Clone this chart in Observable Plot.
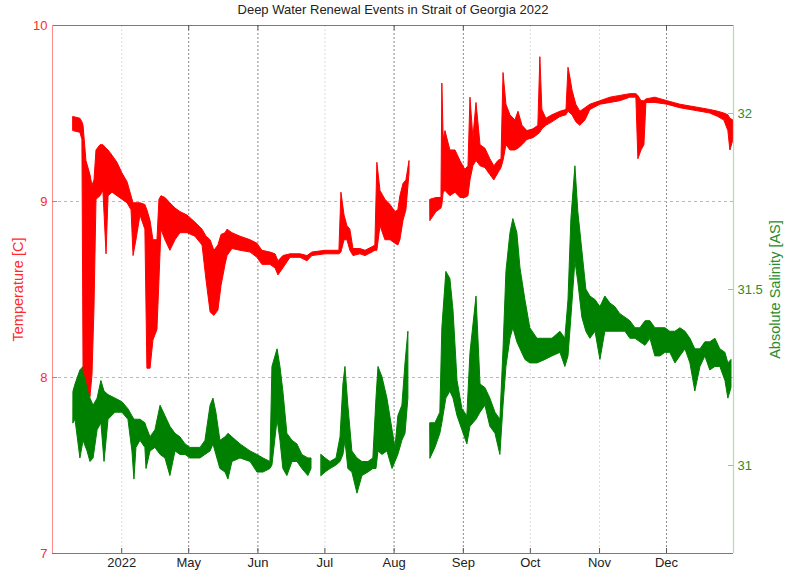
<!DOCTYPE html>
<html>
<head>
<meta charset="utf-8">
<script src="https://cdn.jsdelivr.net/npm/d3@7"></script>
<script src="https://cdn.jsdelivr.net/npm/@observablehq/plot@0.6"></script>
<style>
  body { margin: 0; background: #fff; }
  #chart { width: 787px; height: 573px; }
</style>
</head>
<body>
<div id="chart"></div>
<script>
// ---- Data (day of year 2022, 0 = Jan 1) ----
const titleText = "Deep Water Renewal Events in Strait of Georgia 2022";
const tempLabel = "Temperature [C]";
const salLabel = "Absolute Salinity [AS]";

// Temperature envelope (upper / lower value of the noisy trace)
const tempDay = [68.4,71.5,72.4,72.9,74.2,76.0,76.9,77.8,78.7,80.5,81.8,83.2,84.1,85.9,88.1,90.3,92.6,94.4,95.3,96.6,98.4,100.6,101.5,102.9,104.2,106.0,106.9,107.8,109.6,111.8,114.1,116.3,119.5,123.0,126.2,128.0,129.8,131.5,133.3,134.7,136.5,137.4,139.6,143.2,147.7,150.8,153.0,156.6,158.9,160.2,162.4,165.6,170.1,173.2,175.4,181.3,187.5,188.4,189.8,191.1,192.4,193.8,196.9,199.2,202.3,203.6,204.5,205.9,208.1,210.4,212.6,213.9,214.8,216.2,217.5,218.9,223.0,228.3,231.0,233.2,233.6,234.2,235.0,237.2,239.5,241.7,243.9,245.3,246.2,247.5,248.9,250.7,252.9,255.1,256.9,258.7,260.1,261.0,262.3,264.1,266.3,267.7,269.5,271.7,274.4,276.6,277.5,278.4,280.2,282.9,286.5,289.2,290.1,291.0,291.9,293.6,295.4,297.7,299.9,304.4,308.9,313.3,317.8,320.5,321.4,322.8,324.1,325.0,329.0,334.4,340.2,344.7,349.2,353.6,357.2,359.9,361.7,362.6,364.0];
const tempHigh = [9.48,9.47,9.45,9.43,9.23,9.15,9.09,9.12,9.29,9.32,9.32,9.30,9.29,9.26,9.22,9.16,9.11,9.03,8.99,8.99,8.99,8.98,8.95,8.89,8.78,8.78,9.01,9.03,9.02,8.99,8.96,8.94,8.92,8.88,8.84,8.80,8.78,8.72,8.75,8.81,8.82,8.84,8.82,8.80,8.78,8.76,8.72,8.71,8.70,8.66,8.69,8.70,8.70,8.69,8.71,8.72,8.72,9.05,8.92,8.86,8.84,8.73,8.73,8.72,8.74,8.75,9.22,9.06,9.01,8.98,8.94,8.95,9.03,9.10,9.12,9.23,null,9.01,9.02,9.02,9.67,9.35,9.40,9.29,9.29,9.23,9.18,9.20,9.59,9.36,9.56,9.32,9.30,9.24,9.20,9.23,9.24,9.73,9.55,9.49,9.46,9.51,9.43,9.40,9.41,9.43,9.82,9.52,9.47,9.49,9.51,9.52,9.76,9.70,9.63,9.55,9.51,9.53,9.55,9.57,9.59,9.60,9.61,9.61,9.60,9.57,9.57,9.58,9.59,9.57,9.55,9.54,9.53,9.52,9.51,9.50,9.49,9.47,9.46];
const tempLow = [9.40,9.39,9.35,8.04,7.99,7.89,8.01,8.39,9.01,9.03,9.06,8.70,9.03,9.05,9.03,9.01,8.99,8.95,8.69,8.78,8.92,8.84,8.05,8.05,8.21,8.27,8.55,8.84,8.78,8.72,8.78,8.82,8.82,8.80,8.75,8.55,8.37,8.35,8.38,8.52,8.64,8.69,8.73,8.72,8.71,8.68,8.64,8.64,8.62,8.58,8.62,8.68,8.68,8.66,8.69,8.70,8.70,8.71,8.78,8.78,8.72,8.69,8.70,8.69,8.71,8.72,8.72,8.86,8.78,8.78,8.76,8.75,8.78,8.89,8.95,9.16,null,8.89,8.94,8.96,8.98,9.05,9.06,9.03,9.05,9.02,9.02,9.03,9.12,9.20,9.23,9.20,9.19,9.15,9.12,9.16,9.19,9.23,9.32,9.29,9.29,9.30,9.32,9.35,9.36,9.38,9.39,9.41,9.43,9.45,9.48,9.49,9.51,9.50,9.49,9.45,9.43,9.46,9.52,9.55,9.56,9.57,9.59,9.59,9.24,9.29,9.32,9.56,9.56,9.55,9.53,9.52,9.51,9.50,9.48,9.46,9.40,9.29,9.35];

// Salinity envelope
const salDay = [68.4,69.3,71.5,72.9,74.7,76.0,77.4,79.2,80.9,82.3,84.1,87.2,90.3,93.0,94.8,95.7,96.6,98.4,100.6,101.1,102.9,105.1,107.4,109.6,111.8,114.1,116.3,118.6,120.8,123.0,125.3,127.5,129.8,131.1,132.4,134.2,136.5,137.8,139.6,143.2,147.7,150.8,153.5,156.6,157.5,159.8,161.1,162.4,164.2,166.5,168.7,170.9,173.6,175.0,177.0,179.5,181.3,183.5,186.2,188.0,189.3,190.2,191.5,193.3,195.6,197.8,200.5,202.7,204.1,205.0,206.8,209.0,211.3,212.6,213.9,215.7,217.1,218.4,223.0,228.3,230.5,232.7,233.6,235.4,237.2,238.6,240.4,242.6,244.8,246.2,248.9,250.7,252.9,255.1,257.4,259.6,261.0,262.3,264.1,265.4,267.2,268.6,270.8,273.0,276.2,279.8,282.9,286.5,288.7,290.1,291.4,293.2,294.5,296.3,298.1,299.9,302.2,304.4,306.6,308.9,311.1,313.3,315.6,317.8,320.1,322.3,324.6,326.8,329.0,331.3,333.5,335.7,338.0,340.2,342.5,344.7,346.9,349.2,351.4,353.6,355.9,358.1,360.4,361.7,363.1];
const salHigh = [31.21,31.23,31.27,31.28,31.26,31.19,31.17,31.19,31.24,31.21,31.20,31.19,31.18,31.16,31.14,31.13,31.13,31.13,31.12,31.11,31.08,31.10,31.17,31.14,31.11,31.09,31.08,31.06,31.05,31.05,31.05,31.07,31.17,31.19,31.15,31.07,31.08,31.09,31.08,31.06,31.04,31.03,31.02,31.01,31.28,31.33,31.28,31.21,31.09,31.07,31.06,31.03,31.02,31.02,null,31.03,31.02,31.01,31.02,31.08,31.23,31.28,31.17,31.04,31.02,31.01,31.01,31.02,31.19,31.28,31.25,31.19,31.10,31.05,31.14,31.17,31.29,31.38,null,31.12,31.12,31.15,31.39,31.55,31.53,31.44,31.24,31.16,31.14,31.32,31.48,31.23,31.22,31.19,31.15,31.13,31.33,31.55,31.66,31.70,31.66,31.56,31.47,31.39,31.36,31.36,31.36,31.38,31.36,31.47,31.70,31.85,31.72,31.61,31.50,31.48,31.47,31.45,31.48,31.46,31.45,31.43,31.42,31.41,31.39,31.39,31.41,31.41,31.39,31.39,31.39,31.38,31.38,31.39,31.38,31.36,31.33,31.33,31.35,31.35,31.36,31.33,31.32,31.29,31.30];
const salLow = [31.12,31.13,31.02,31.07,31.04,31.01,31.02,31.10,31.12,31.01,31.13,31.15,31.15,31.13,31.04,30.96,31.05,31.07,31.05,30.99,31.04,31.05,31.03,31.02,30.97,31.04,31.03,31.03,31.02,31.02,31.02,31.03,31.04,31.06,31.03,30.99,30.98,30.96,31.01,31.02,31.01,30.98,30.98,30.99,31.00,31.13,31.07,30.99,30.97,31.01,31.01,30.99,30.97,30.99,null,30.97,30.98,30.99,31.00,31.01,31.03,31.07,30.99,30.98,30.92,30.97,30.98,30.99,30.99,31.04,31.03,31.04,30.99,31.01,31.03,31.07,31.09,31.19,null,31.02,31.05,31.09,31.12,31.19,31.21,31.19,31.14,31.10,31.06,31.11,31.13,31.15,31.17,31.11,31.09,31.03,31.17,31.28,31.36,31.39,31.35,31.33,31.30,31.29,31.29,31.30,31.31,31.32,31.28,31.31,31.42,31.58,31.52,31.42,31.38,31.36,31.38,31.30,31.38,31.38,31.38,31.38,31.38,31.36,31.36,31.35,31.34,31.36,31.31,31.31,31.32,31.32,31.29,31.31,31.33,31.29,31.21,31.28,31.31,31.27,31.28,31.28,31.24,31.19,31.22];

// Axis ticks
const monthTickDays = [90,120,151,181,212,243,273,304,334];   // Apr 1 ... Dec 1
const monthTickLabels = ["2022","May","Jun","Jul","Aug","Sep","Oct","Nov","Dec"];
const tempTicks = [7,8,9,10];
const tempGrid = [8,9];
const salTicks = [31,31.5,32];

// ---- Helpers ----
const DAY0 = Date.UTC(2022,0,1);
const toDate = d => new Date(DAY0 + d * 864e5);
const salMin = 30.75, salMax = 32.25, tMin = 7, tMax = 10;
const salToT = s => s == null ? NaN : tMin + (s - salMin) * (tMax - tMin) / (salMax - salMin);
const tToSal = t => salMin + (t - tMin) * (salMax - salMin) / (tMax - tMin);

const tempRows = tempDay.map((d, i) => ({date: toDate(d), hi: tempHigh[i] == null ? NaN : tempHigh[i], lo: tempLow[i] == null ? NaN : tempLow[i]}));
const salRows = salDay.map((d, i) => ({date: toDate(d), hi: salToT(salHigh[i]), lo: salToT(salLow[i])}));
const monthDates = monthTickDays.map(toDate);
const labelByTime = new Map(monthDates.map((d, i) => [+d, monthTickLabels[i]]));
const strongIdx = [1,2,4,5,8];
const strongMonths = monthDates.filter((d, i) => strongIdx.includes(i));
const faintMonths = monthDates.filter((d, i) => !strongIdx.includes(i));
const xStart = new Date(Date.UTC(2022,2,1));
const xEnd = new Date(Date.UTC(2022,11,31));

const RED = "#ff0000", GREEN = "#008000";
const redText = "#ff2a2a", greenText = "#2a8c2a";
const frameH = 573 - 25 - 20;
const frameW = 787 - 52 - 54;

const chart = Plot.plot({
  width: 787,
  height: 573,
  marginLeft: 52,
  marginRight: 54,
  marginTop: 25,
  marginBottom: 20,
  style: {fontFamily: "'Liberation Sans', Arial, Helvetica, sans-serif", fontSize: "13px", background: "#fff", overflow: "visible"},
  x: {type: "utc", domain: [xStart, xEnd], label: null},
  y: {domain: [tMin, tMax], label: null},
  marks: [
    // grid
    Plot.ruleX(faintMonths, {stroke: "#dcdcdc", strokeDasharray: "2,2"}),
    Plot.ruleX(strongMonths, {stroke: "#8a8a8a", strokeDasharray: "2,2"}),
    Plot.ruleY(tempGrid, {stroke: "#ff9a9a", strokeWidth: 1.2, strokeDasharray: "3,3"}),
    // data
    Plot.area(salRows, {x1: "date", y1: "lo", y2: "hi", fill: GREEN, stroke: GREEN, strokeWidth: 1}),
    Plot.area(tempRows, {x1: "date", y1: "lo", y2: "hi", fill: RED, stroke: RED, strokeWidth: 1}),
    // frame
    Plot.ruleY([tMax], {stroke: "#7a7a7a", strokeWidth: 1.2}),
    Plot.ruleY([tMin], {stroke: "#7a7a7a", strokeWidth: 1.2}),
    Plot.ruleX([xStart], {stroke: "#ff8c8c"}),
    Plot.ruleX([xEnd], {stroke: "#b4dcb4", strokeWidth: 1.2}),
    // inward ticks
    Plot.ruleX(monthDates, {insetTop: frameH - 5, stroke: "#555"}),
    Plot.ruleX(strongMonths, {insetBottom: frameH - 5, stroke: "#555"}),
    Plot.ruleY(tempGrid, {insetRight: frameW - 5, stroke: "#ff6060"}),
    Plot.ruleY(salTicks.map(salToT), {insetLeft: frameW - 5, stroke: "#8fcc8f"}),
    // axes
    Plot.axisY(tempTicks, {anchor: "left", tickSize: 0, tickPadding: 5, color: redText, tickFormat: d => String(d)}),
    Plot.axisY(salTicks.map(salToT), {anchor: "right", tickSize: 0, tickPadding: 4, color: greenText, tickFormat: t => String(+tToSal(t).toFixed(2))}),
    Plot.axisX(monthDates, {anchor: "bottom", tickSize: 0, tickPadding: 4, color: "#222", tickFormat: d => labelByTime.get(+d)}),
    // titles
    Plot.text([titleText], {frameAnchor: "top", dy: -16, textAnchor: "middle", lineAnchor: "middle", fill: "#222", fontSize: 13}),
    Plot.text([tempLabel], {frameAnchor: "left", dx: -34, rotate: -90, textAnchor: "middle", lineAnchor: "middle", fill: redText, fontSize: 14.5}),
    Plot.text([salLabel], {frameAnchor: "right", dx: 42, rotate: -90, textAnchor: "middle", lineAnchor: "middle", fill: greenText, fontSize: 14.5})
  ]
});
document.getElementById("chart").appendChild(chart);
</script>
</body>
</html>
